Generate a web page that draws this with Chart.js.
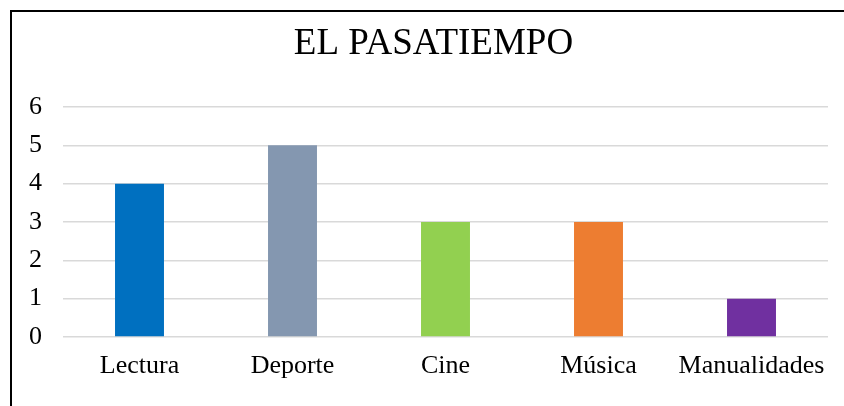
<!DOCTYPE html>
<html>
<head>
<meta charset="utf-8">
<script src="https://cdn.jsdelivr.net/npm/chart.js@4"></script>
<style>
  html, body { margin: 0; padding: 0; background: #fff; }
  #wrap { width: 844px; height: 406px; }
</style>
</head>
<body>
<div id="wrap"><canvas id="myChart"></canvas></div>
<script>
// datos del grafico
const categorias = ['Lectura', 'Deporte', 'Cine', 'Música', 'Manualidades']
const valores = [4, 5, 3, 3, 1]
const colores = ['#0070C0', '#8497B0', '#92D050', '#ED7D31', '#7030A0']
const ticksY = [0, 1, 2, 3, 4, 5, 6]

// marco negro del grafico y titulo centrado sobre el area de trazado
const marco = {
    id: 'marco',
    afterLayout(chart){
        const t = chart.titleBlock
        if (t) {
            t.left = chart.chartArea.left - 40
            t.right = chart.chartArea.right + 16
        }
    },
    beforeDraw(chart){
        const c = chart.ctx
        c.save()
        c.fillStyle = '#fff'
        c.fillRect(0, 0, chart.width, chart.height)
        c.strokeStyle = '#000'
        c.lineWidth = 2
        c.strokeRect(11, 11, chart.width + 20, chart.height + 20)
        c.restore()
    }
}

const serif = '"Liberation Serif", "Times New Roman", serif'

var ctx = document.getElementById('myChart')
var myChart = new Chart(ctx, {
    type: 'bar',
    data: {
        labels: categorias,
        datasets: [{
            label: 'El pasatiempo',
            data: valores,
            backgroundColor: colores,
            borderWidth: 0,
            categoryPercentage: 0.64,
            barPercentage: 0.5
        }]
    },
    options: {
        responsive: true,
        maintainAspectRatio: false,
        animation: false,
        layout: { padding: { left: 11, right: 16, top: 0, bottom: 0 } },
        plugins: {
            legend: { display: false },
            tooltip: { enabled: false },
            title: {
                display: true,
                text: 'EL PASATIEMPO',
                color: '#000',
                font: { family: serif, size: 37, weight: 'normal', lineHeight: 1.2 },
                padding: { top: 22, bottom: 40.6 }
            }
        },
        scales: {
            x: {
                grid: { display: false, drawTicks: false },
                border: { display: false },
                ticks: { color: '#000', padding: 14, font: { family: serif, size: 26 } },
                afterFit(scale){ scale.height = 69 }
            },
            y: {
                min: 0,
                max: 6,
                afterBuildTicks(scale){ scale.ticks = ticksY.map(v => ({ value: v })) },
                grid: { color: '#d9d9d9', lineWidth: 1.5, drawTicks: false },
                border: { display: false },
                ticks: { color: '#000', padding: 21, font: { family: serif, size: 26 } },
                afterFit(scale){ scale.width = 52 }
            }
        }
    },
    plugins: [marco]
})
</script>
</body>
</html>
